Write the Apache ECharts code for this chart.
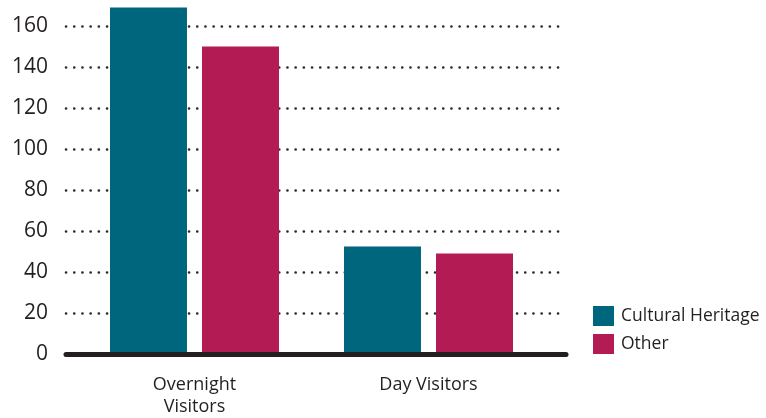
<!DOCTYPE html>
<html>
<head>
<meta charset="utf-8">
<script src="https://cdn.jsdelivr.net/npm/echarts@6/dist/echarts.min.js"></script>
<style>
  html, body { margin: 0; padding: 0; background: #fff; }
  #chart { width: 766px; height: 418px; }
</style>
</head>
<body>
<div id="chart"></div>
<script>
let categories = ["Overnight\nVisitors", "Day Visitors"];
let culturalHeritage = [169, 52.5];
let other = [150, 49];
let yTicks = [0, 20, 40, 60, 80, 100, 120, 140, 160];

let font = "'Open Sans', 'Noto Sans', sans-serif";
let ink = "#231f20";

let option = {
  backgroundColor: "#fff",
  animation: false,
  textStyle: { fontFamily: font },
  legend: {
    orient: "vertical",
    left: 593,
    top: 306,
    padding: 0,
    itemWidth: 21,
    itemHeight: 20,
    itemGap: 8,
    icon: "rect",
    textStyle: { fontSize: 17.5, color: ink, fontFamily: font, padding: [0, 0, 0, 2] },
    data: ["Cultural Heritage", "Other"]
  },
  grid: [
    { left: 66, right: 200, top: 5.5, bottom: 63.5 },
    { left: 77.5, right: 220.5, top: 5.5, bottom: 63.5 }
  ],
  xAxis: [
    {
      gridIndex: 0,
      type: "value",
      min: 0,
      max: 1,
      z: 10,
      axisLine: { show: true, lineStyle: { color: ink, width: 5 } },
      axisTick: { show: false },
      axisLabel: { show: false },
      splitLine: { show: false }
    },
    {
      gridIndex: 1,
      type: "category",
      data: categories,
      axisLine: { show: false },
      axisTick: { show: false },
      axisLabel: {
        margin: 20,
        fontSize: 18,
        lineHeight: 22,
        color: ink,
        fontFamily: font
      }
    }
  ],
  yAxis: [
    {
      gridIndex: 0,
      type: "value",
      min: 0,
      max: 170,
      interval: 20,
      axisLine: { show: false },
      axisTick: { show: false },
      axisLabel: {
        margin: 18,
        fontSize: 21,
        color: ink,
        fontFamily: font,
        showMaxLabel: false,
        formatter: v => (yTicks.indexOf(v) >= 0 ? String(v) : "")
      },
      splitLine: {
        show: true,
        showMaxLine: false,
        lineStyle: { color: "#2a2a2a", width: 2.6, type: [0.1, 8.1], cap: "round" }
      }
    },
    {
      gridIndex: 1,
      type: "value",
      min: 0,
      max: 170,
      interval: 20,
      show: false,
      splitLine: { show: false }
    }
  ],
  series: [
    {
      name: "Cultural Heritage",
      type: "bar",
      xAxisIndex: 1,
      yAxisIndex: 1,
      barWidth: 77,
      barGap: "19.5%",
      itemStyle: { color: "#00667e" },
      data: culturalHeritage
    },
    {
      name: "Other",
      type: "bar",
      xAxisIndex: 1,
      yAxisIndex: 1,
      barWidth: 77,
      barGap: "19.5%",
      itemStyle: { color: "#b31b55" },
      data: other
    }
  ]
};

let myChart = echarts.init(document.getElementById("chart"));
myChart.setOption(option);
</script>
</body>
</html>
